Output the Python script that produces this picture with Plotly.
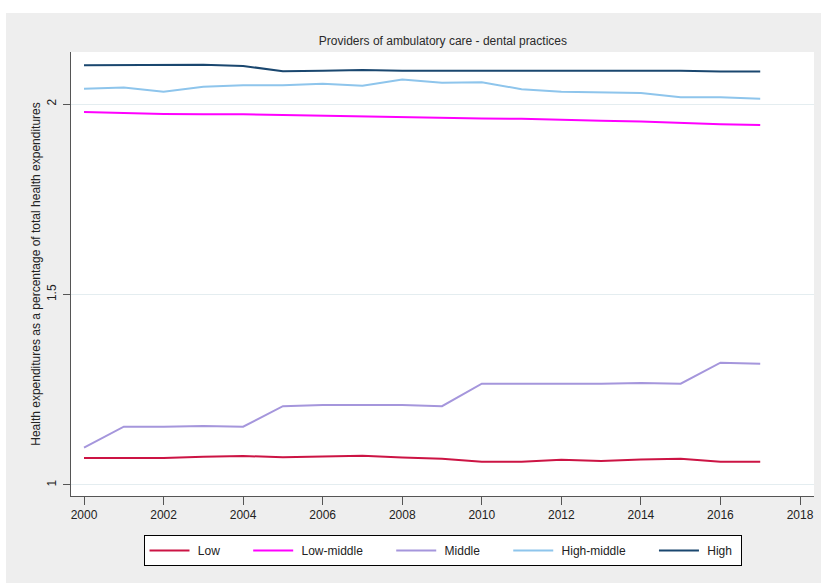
import plotly.graph_objects as go

years = list(range(2000, 2018))

low = [1.071, 1.071, 1.071, 1.074, 1.076, 1.073, 1.075, 1.077, 1.072, 1.069,
       1.061, 1.061, 1.066, 1.063, 1.067, 1.069, 1.061, 1.061]
low_middle = [1.979, 1.976, 1.974, 1.973, 1.973, 1.971, 1.969, 1.967, 1.966, 1.964,
              1.962, 1.961, 1.958, 1.956, 1.954, 1.950, 1.947, 1.945]
middle = [1.098, 1.153, 1.153, 1.155, 1.153, 1.207, 1.210, 1.210, 1.210, 1.207,
          1.266, 1.266, 1.266, 1.266, 1.268, 1.266, 1.321, 1.318]
high_middle = [2.040, 2.043, 2.032, 2.045, 2.049, 2.049, 2.053, 2.048, 2.064, 2.056,
               2.057, 2.039, 2.032, 2.030, 2.029, 2.018, 2.018, 2.014]
high = [2.102, 2.102, 2.103, 2.103, 2.100, 2.086, 2.087, 2.089, 2.087, 2.087,
        2.087, 2.087, 2.087, 2.087, 2.087, 2.087, 2.085, 2.085]

series_names = ["Low", "Low-middle", "Middle", "High-middle", "High"]
series_values = [low, low_middle, middle, high_middle, high]
series_colors = ["#cc1444", "#ff00ff", "#a596dc", "#8ec5ec", "#1a476f"]

x_ticks = list(range(2000, 2019, 2))
y_ticks = [1, 1.5, 2]
y_tick_labels = ["1", "1.5", "2"]

fig = go.Figure()
for i, (name, vals, col) in enumerate(zip(series_names, series_values, series_colors)):
    pad = "\u00a0" * (7 if i < len(series_names) - 1 else 1)
    fig.add_trace(go.Scatter(
        x=years, y=vals, mode="lines", name="\u00a0" + name + pad,
        line=dict(color=col, width=2),
    ))

font_family = "Liberation Sans, Arial, sans-serif"

fig.update_layout(
    width=821, height=583,
    margin=dict(l=71, r=7, t=52, b=87),
    paper_bgcolor="#eeeeee",
    plot_bgcolor="#ffffff",
    font=dict(family=font_family, size=12, color="#222222"),
    title=dict(text="Providers of ambulatory care - dental practices",
               x=0.5395, xanchor="center", y=1 - 41 / 583, yanchor="middle",
               font=dict(size=12, color="#2a2a2a")),
    xaxis=dict(
        range=[1999.673, 2018.352], tickvals=x_ticks,
        ticktext=[str(v) for v in x_ticks],
        showgrid=False, zeroline=False,
        showline=True, linecolor="#555555", linewidth=1,
        ticks="outside", ticklen=8, tickcolor="#555555", tickwidth=1,
        tickfont=dict(size=12, color="#222222"),
    ),
    yaxis=dict(
        range=[0.9711, 2.1365], tickvals=y_ticks, ticktext=y_tick_labels,
        showgrid=True, gridcolor="#e4edf0", gridwidth=1, zeroline=False,
        showline=True, linecolor="#555555", linewidth=1,
        ticks="outside", ticklen=7, tickcolor="#555555", tickwidth=1,
        tickangle=-90, ticklabelstandoff=2,
        tickfont=dict(size=12, color="#222222"),
        title=dict(text="Health expenditures as a percentage of total health expenditures",
                   font=dict(size=12, color="#222222"), standoff=2),
    ),
    legend=dict(
        orientation="h", x=0.5, xanchor="center", xref="paper",
        y=-(535 - 496) / 444, yanchor="top",
        bgcolor="#ffffff", bordercolor="#000000", borderwidth=1,
        font=dict(size=12, color="#222222"),
        itemwidth=40,
    ),
    showlegend=True,
)

# white strip at top and left of the outer gray area
fig.add_shape(type="rect", xref="paper", yref="paper",
              x0=-71 / 743, x1=1 + 7 / 743, y0=1 + (52 - 13) / 444, y1=1 + 52 / 444,
              fillcolor="#ffffff", line=dict(width=0), layer="below")
fig.add_shape(type="rect", xref="paper", yref="paper",
              x0=-71 / 743, x1=-65 / 743, y0=-87 / 444, y1=1 + 52 / 444,
              fillcolor="#ffffff", line=dict(width=0), layer="below")

fig.write_html("out.html")
